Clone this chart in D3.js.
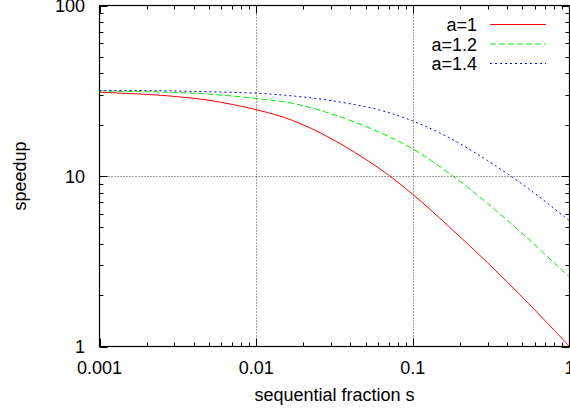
<!DOCTYPE html>
<html>
<head>
<meta charset="utf-8">
<script src="https://cdn.jsdelivr.net/npm/d3@7"></script>
<style>
  body { margin: 0; background: #fff; }
  svg text { font-family: "Liberation Sans", Arial, sans-serif; }
</style>
</head>
<body>
<div id="chart"></div>
<script>
// sequential fraction s
const fractions = [0.001, 0.002, 0.003, 0.005, 0.01, 0.017, 0.03, 0.06, 0.1, 0.17, 0.3, 0.55, 1];

// speedup per series
const speedupA10 = [31.0, 30.1, 29.3, 27.8, 24.5, 21.2, 16.6, 11.2, 7.8, 5.05, 3.1, 1.78, 1.0];
const speedupA12 = [31.5, 31.2, 30.9, 30.2, 28.5, 26.7, 23.2, 18.2, 14.4, 10.4, 6.9, 4.25, 2.55];
const speedupA14 = [31.8, 31.7, 31.5, 31.2, 30.6, 29.5, 27.7, 24.5, 21.0, 16.8, 12.3, 8.4, 5.45];

const seriesNames = ["a=1", "a=1.2", "a=1.4"];
const xTickLabels = ["0.001", "0.01", "0.1", "1"];
const yTickLabels = ["1", "10", "100"];

const series = [
  { name: seriesNames[0], values: speedupA10, color: "#ff0000", dash: null },
  { name: seriesNames[1], values: speedupA12, color: "#00ee00", dash: "6,3" },
  { name: seriesNames[2], values: speedupA14, color: "#0000ff", dash: "2,3" }
];

const width = 570, height = 412;
const mLeft = 99.5, mRight = 569.5, mTop = 5.5, mBottom = 346.5;
const fs = 18;

const svg = d3.select("#chart").append("svg")
  .attr("width", width)
  .attr("height", height);

const x = d3.scaleLog().domain([0.001, 1]).range([mLeft, mRight]);
const y = d3.scaleLog().domain([1, 100]).range([mBottom, mTop]);

// minor / major tick values
const xMinor = [], yMinor = [];
[0.001, 0.01, 0.1].forEach(d => { for (let k = 2; k < 10; k++) xMinor.push(d * k); });
[1, 10].forEach(d => { for (let k = 2; k < 10; k++) yMinor.push(d * k); });
const xMajor = xTickLabels.map(Number);
const yMajor = yTickLabels.map(Number);

// grid
const grid = svg.append("g")
  .attr("stroke", "#444")
  .attr("stroke-width", 1)
  .attr("stroke-dasharray", "1,2");
grid.selectAll(".gx").data(xMajor.slice(1, -1)).join("line")
  .attr("x1", d => Math.round(x(d)) + 0.5).attr("x2", d => Math.round(x(d)) + 0.5)
  .attr("y1", mTop).attr("y2", mBottom);
grid.selectAll(".gy").data(yMajor.slice(1, -1)).join("line")
  .attr("y1", d => Math.round(y(d)) + 0.5).attr("y2", d => Math.round(y(d)) + 0.5)
  .attr("x1", mLeft).attr("x2", mRight);

// ticks on all four sides, pointing inward
const ticks = svg.append("g").attr("stroke", "#000").attr("stroke-width", 1);
function xTicks(vals, len) {
  vals.forEach(v => {
    const px = Math.round(x(v)) + 0.5;
    ticks.append("line").attr("x1", px).attr("x2", px).attr("y1", mBottom).attr("y2", mBottom - len);
    ticks.append("line").attr("x1", px).attr("x2", px).attr("y1", mTop).attr("y2", mTop + len);
  });
}
function yTicks(vals, len) {
  vals.forEach(v => {
    const py = Math.round(y(v)) + 0.5;
    ticks.append("line").attr("y1", py).attr("y2", py).attr("x1", mLeft).attr("x2", mLeft + len);
    ticks.append("line").attr("y1", py).attr("y2", py).attr("x1", mRight).attr("x2", mRight - len);
  });
}
xTicks(xMajor, 8); xTicks(xMinor, 4);
yTicks(yMajor, 8); yTicks(yMinor, 4);

// curves
const line = d3.line()
  .x((d, i) => x(fractions[i]))
  .y(d => y(d))
  .curve(d3.curveCatmullRom.alpha(0.5));

svg.append("g").selectAll("path").data(series).join("path")
  .attr("d", d => line(d.values))
  .attr("fill", "none")
  .attr("stroke", d => d.color)
  .attr("stroke-width", 1)
  .attr("stroke-dasharray", d => d.dash);

// border
svg.append("rect")
  .attr("x", mLeft).attr("y", mTop)
  .attr("width", mRight - mLeft).attr("height", mBottom - mTop)
  .attr("fill", "none").attr("stroke", "#000").attr("stroke-width", 1.2);

// tick labels
svg.append("g").selectAll("text").data(xTickLabels).join("text")
  .attr("x", d => x(+d)).attr("y", 374)
  .attr("text-anchor", "middle")
  .attr("font-size", fs)
  .text(d => d);
svg.append("g").selectAll("text").data(yTickLabels).join("text")
  .attr("x", 85).attr("y", d => y(+d) + 6.5)
  .attr("text-anchor", "end")
  .attr("font-size", fs)
  .text(d => d);

// axis titles
svg.append("text")
  .attr("x", (mLeft + mRight) / 2).attr("y", 401)
  .attr("text-anchor", "middle").attr("font-size", fs)
  .text("sequential fraction s");
svg.append("text")
  .attr("transform", `translate(26,${(mTop + mBottom) / 2}) rotate(-90)`)
  .attr("text-anchor", "middle").attr("font-size", fs)
  .text("speedup");

// legend
const legend = svg.append("g");
series.forEach((s, i) => {
  const cy = 24.5 + i * 19.5;
  legend.append("text")
    .attr("x", 477).attr("y", cy + 6.5)
    .attr("text-anchor", "end").attr("font-size", fs)
    .text(s.name);
  legend.append("line")
    .attr("x1", 490).attr("x2", 546)
    .attr("y1", cy).attr("y2", cy)
    .attr("stroke", s.color).attr("stroke-width", 1)
    .attr("stroke-dasharray", s.dash);
});
</script>
</body>
</html>
